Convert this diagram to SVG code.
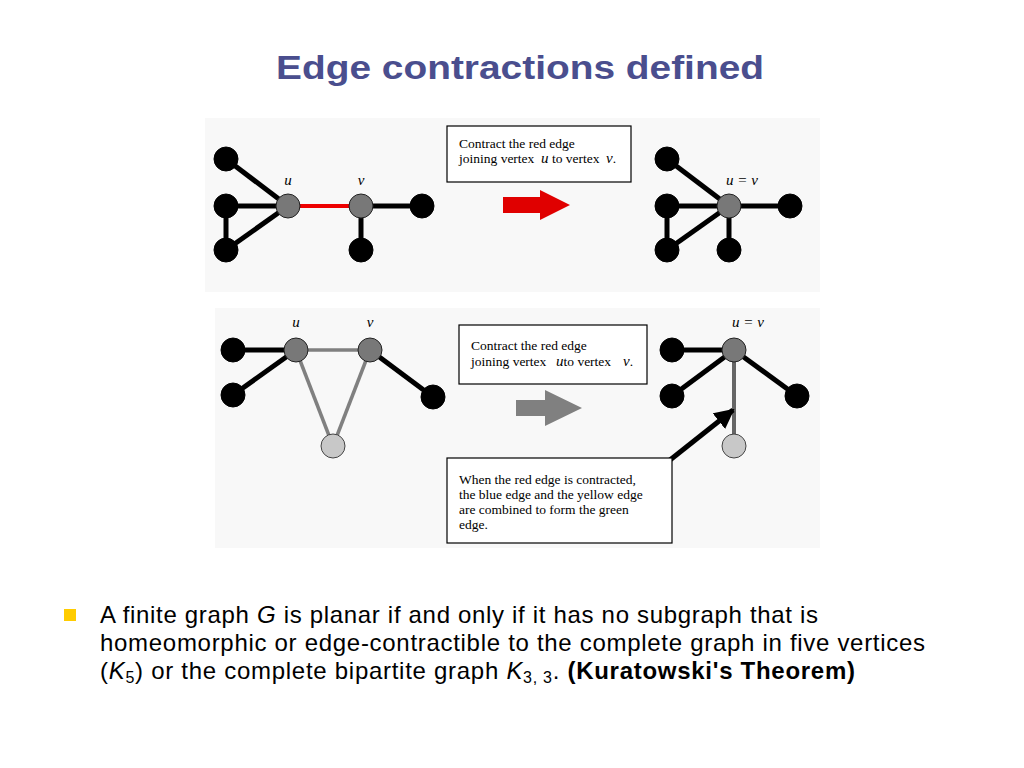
<svg xmlns="http://www.w3.org/2000/svg" width="1024" height="768" viewBox="0 0 1024 768">
<style>
.e{stroke:#000;stroke-width:5}
.g{stroke:#808080;stroke-width:3.5}
.b{fill:#000;stroke:#000}
.m{fill:#787878;stroke:#222;stroke-width:1}
.l{fill:#c8c8c8;stroke:#444;stroke-width:1}
.t{font-family:"Liberation Serif",serif;font-size:13.5px;fill:#000}
.i{font-family:"Liberation Serif",serif;font-style:italic;font-size:15px}
.box{fill:#fff;stroke:#000;stroke-width:1.2}
.s{font-family:"Liberation Sans",Arial,sans-serif;font-size:24px;fill:#000}
</style>
<defs><marker id="ah" viewBox="0 0 10 10" refX="9" refY="5" markerWidth="4" markerHeight="4" orient="auto"><path d="M0,0L10,5L0,10z" fill="#000"/></marker></defs>
<rect width="1024" height="768" fill="#fff"/>
<text x="520" y="79" text-anchor="middle" font-family="Liberation Sans,Arial,sans-serif" font-weight="bold" font-size="34" fill="#4a4e8e" textLength="488" lengthAdjust="spacingAndGlyphs">Edge contractions defined</text>
<rect x="205" y="118" width="615" height="174" fill="#f8f8f8"/>
<rect x="215" y="308" width="605" height="240" fill="#f8f8f8"/>
<g id="connectors">
<line class="e" x1="226" y1="159" x2="288" y2="206"/><line class="e" x1="226" y1="206" x2="288" y2="206"/><line class="e" x1="226" y1="250" x2="288" y2="206"/><line class="e" x1="226" y1="206" x2="226" y2="250"/>
<line stroke="#e00" stroke-width="4" x1="288" y1="206" x2="361" y2="206"/>
<line class="e" x1="361" y1="206" x2="422" y2="206"/><line class="e" x1="361" y1="206" x2="361" y2="250"/>
<line class="e" x1="667" y1="159" x2="729" y2="206"/><line class="e" x1="667" y1="206" x2="729" y2="206"/><line class="e" x1="667" y1="250" x2="729" y2="206"/><line class="e" x1="667" y1="206" x2="667" y2="250"/><line class="e" x1="729" y1="206" x2="790" y2="206"/><line class="e" x1="729" y1="206" x2="729" y2="250"/>
<line class="e" x1="233" y1="350" x2="296" y2="350"/><line class="e" x1="233" y1="395" x2="296" y2="350"/><line class="g" x1="296" y1="350" x2="370" y2="350"/><line class="e" x1="370" y1="350" x2="433" y2="397"/><line class="g" x1="296" y1="350" x2="333" y2="446"/><line class="g" x1="370" y1="350" x2="333" y2="446"/>
<line class="e" x1="672" y1="350" x2="734" y2="350"/><line class="e" x1="672" y1="396" x2="734" y2="350"/><line class="e" x1="734" y1="350" x2="797" y2="396"/><line stroke="#666" stroke-width="4" x1="734" y1="350" x2="734" y2="446"/>
<line stroke="#000" stroke-width="5" x1="670" y1="460" x2="733" y2="410" marker-end="url(#ah)"/>
<path d="M503,197H540V190L570,205L540,220V213H503z" fill="#e00000"/>
<path d="M516,400H545V390L582,408L545,426V416H516z" fill="#808080"/>
</g>
<g id="top-left">
<circle class="b" cx="226" cy="159" r="12"/><circle class="b" cx="226" cy="206" r="12"/><circle class="b" cx="226" cy="250" r="12"/><circle class="m" cx="288" cy="206" r="12"/><circle class="m" cx="361" cy="206" r="12"/><circle class="b" cx="422" cy="206" r="12"/><circle class="b" cx="361" cy="250" r="12"/>
<text class="i" x="288" y="185" text-anchor="middle">u</text><text class="i" x="361" y="185" text-anchor="middle">v</text>
</g>
<g id="top-box"><rect class="box" x="447" y="126" width="184" height="56"/><text class="t" x="459" y="148">Contract the red edge</text><text class="t" x="459" y="163">joining vertex</text><text class="t" x="541" y="163"><tspan class="i" font-size="13.5">u</tspan> to vertex</text><text class="t" x="606" y="163"><tspan class="i" font-size="13.5">v</tspan>.</text></g>
<g id="top-right">
<circle class="b" cx="667" cy="159" r="12"/><circle class="b" cx="667" cy="206" r="12"/><circle class="b" cx="667" cy="250" r="12"/><circle class="m" cx="729" cy="206" r="12"/><circle class="b" cx="790" cy="206" r="12"/><circle class="b" cx="729" cy="250" r="12"/>
<text class="i" x="742" y="185" text-anchor="middle">u = v</text>
</g>
<g id="bottom-left">
<circle class="b" cx="233" cy="350" r="12"/><circle class="b" cx="233" cy="395" r="12"/><circle class="m" cx="296" cy="350" r="12"/><circle class="m" cx="370" cy="350" r="12"/><circle class="b" cx="433" cy="397" r="12"/><circle class="l" cx="333" cy="446" r="12"/>
<text class="i" x="296" y="327" text-anchor="middle">u</text><text class="i" x="370" y="327" text-anchor="middle">v</text>
</g>
<g id="bottom-box"><rect class="box" x="459" y="325" width="188" height="59"/><text class="t" x="471" y="350">Contract the red edge</text><text class="t" x="471" y="366">joining vertex</text><text class="t" x="556" y="366"><tspan class="i" font-size="13.5">u</tspan>to vertex</text><text class="t" x="623" y="366"><tspan class="i" font-size="13.5">v</tspan>.</text></g>
<g id="bottom-right">
<circle class="b" cx="672" cy="350" r="12"/><circle class="b" cx="672" cy="396" r="12"/><circle class="m" cx="734" cy="350" r="12"/><circle class="b" cx="797" cy="396" r="12"/><circle class="l" cx="734" cy="446" r="12"/>
<text class="i" x="748" y="327" text-anchor="middle">u = v</text>
</g>
<g id="note"><rect class="box" x="447" y="458" width="225" height="85"/>
<text class="t" x="459" y="484">When the red edge is contracted,</text><text class="t" x="459" y="499">the blue edge and the yellow edge</text><text class="t" x="459" y="514">are combined to form the green</text><text class="t" x="459" y="529">edge.</text></g>
<rect x="64" y="609" width="12" height="12" fill="#ffcc00"/>
<text class="s" x="100" y="623" textLength="718">A finite graph <tspan font-style="italic">G</tspan> is planar if and only if it has no subgraph that is</text>
<text class="s" x="100" y="651" textLength="825">homeomorphic or edge-contractible to the complete graph in five vertices</text>
<text class="s" x="100" y="679" textLength="755">(<tspan font-style="italic">K</tspan><tspan font-size="16" dy="4">5</tspan><tspan dy="-4">) or the complete bipartite graph </tspan><tspan font-style="italic">K</tspan><tspan font-size="16" dy="4">3, 3</tspan><tspan dy="-4">. </tspan><tspan font-weight="bold">(Kuratowski's Theorem)</tspan></text>
</svg>
